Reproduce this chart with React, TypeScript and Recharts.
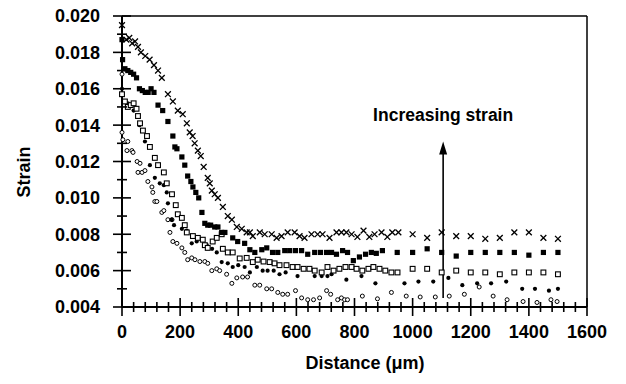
import React from 'react';
import {
  ScatterChart, Scatter, XAxis, YAxis, ReferenceLine, ReferenceDot, Customized,
} from 'recharts';

// distance (µm), strain, highest strain first
const CROSSES: [number, number][] = [
  [0, 0.0195], [15, 0.0187], [25, 0.0188], [35, 0.0185], [45, 0.0186], [55, 0.0183],
  [65, 0.018], [80, 0.0178], [95, 0.0176], [110, 0.0173], [124, 0.017], [137, 0.0166],
  [158, 0.0157], [175, 0.0153], [192, 0.0148], [209, 0.0146], [223, 0.0141], [233, 0.0136],
  [243, 0.0134], [250, 0.013], [261, 0.0126], [271, 0.0123], [281, 0.0117], [295, 0.0111],
  [302, 0.0108], [309, 0.0104], [319, 0.0102], [330, 0.01], [347, 0.0095], [364, 0.009],
  [378, 0.0088], [395, 0.0084], [412, 0.0083], [429, 0.0081], [440, 0.0081], [450, 0.0079],
  [474, 0.0081], [491, 0.008], [515, 0.008], [532, 0.0078], [549, 0.0079], [570, 0.0081],
  [594, 0.0081], [611, 0.0079], [628, 0.0078], [652, 0.008], [673, 0.008], [690, 0.008],
  [714, 0.0078], [738, 0.0081], [755, 0.0081], [772, 0.0081], [790, 0.008], [810, 0.00785],
  [831, 0.0082], [851, 0.00785], [869, 0.008], [893, 0.0081], [913, 0.00785], [930, 0.0081],
  [951, 0.0081], [1000, 0.008], [1050, 0.0078], [1100, 0.0081], [1150, 0.0079], [1200, 0.0079],
  [1250, 0.00775], [1300, 0.0078], [1350, 0.0081], [1400, 0.0081], [1450, 0.0078], [1500, 0.00775],
];

const FILLED_SQUARES: [number, number][] = [
  [0, 0.0187], [2, 0.0176], [10, 0.0171], [20, 0.017], [30, 0.0169], [40, 0.0168],
  [50, 0.0166], [60, 0.016], [70, 0.0159], [80, 0.0158], [90, 0.0158], [100, 0.016],
  [110, 0.0158], [124, 0.0151], [140, 0.0148], [158, 0.0142], [175, 0.0134], [182, 0.0128],
  [189, 0.0127], [206, 0.01225], [216, 0.0118], [226, 0.0112], [237, 0.0109], [244, 0.0106],
  [254, 0.0103], [264, 0.01], [275, 0.0092], [285, 0.0086], [295, 0.0085], [305, 0.0085],
  [319, 0.0084], [330, 0.0084], [343, 0.0081], [354, 0.0081], [381, 0.0078], [398, 0.0076],
  [422, 0.0075], [440, 0.00715], [457, 0.007], [481, 0.00715], [498, 0.00725], [518, 0.007],
  [536, 0.007], [560, 0.0071], [577, 0.0071], [597, 0.0071], [618, 0.0071], [639, 0.0069],
  [663, 0.007], [683, 0.007], [704, 0.007], [721, 0.007], [738, 0.0069], [759, 0.0071],
  [776, 0.007], [796, 0.00655], [817, 0.00675], [838, 0.0069], [858, 0.007], [875, 0.00695],
  [896, 0.0071], [947, 0.007], [1000, 0.007], [1050, 0.0072], [1100, 0.007], [1150, 0.0068],
  [1200, 0.007], [1250, 0.007], [1300, 0.007], [1350, 0.007], [1400, 0.00685], [1450, 0.007],
  [1500, 0.007],
];

const OPEN_SQUARES: [number, number][] = [
  [0, 0.0157], [10, 0.0153], [20, 0.015], [30, 0.0151], [40, 0.0152], [50, 0.0149],
  [55, 0.0145], [62, 0.0141], [72, 0.0137], [86, 0.0134], [96, 0.0128], [113, 0.0122],
  [124, 0.0118], [144, 0.0114], [154, 0.0108], [172, 0.0102], [185, 0.0096], [192, 0.0091],
  [206, 0.0089], [216, 0.0085], [223, 0.0081], [244, 0.0079], [261, 0.0078], [278, 0.0077],
  [285, 0.0074], [295, 0.00725], [312, 0.0076], [326, 0.0078], [343, 0.008], [347, 0.0072],
  [364, 0.007], [381, 0.007], [405, 0.00667], [429, 0.0067], [450, 0.00647], [467, 0.0066],
  [487, 0.0065], [508, 0.00647], [525, 0.0064], [542, 0.0063], [566, 0.0063], [587, 0.0062],
  [604, 0.0062], [625, 0.0061], [645, 0.0061], [663, 0.006], [687, 0.0059], [707, 0.0062],
  [728, 0.006], [748, 0.0061], [769, 0.0062], [790, 0.0062], [807, 0.0061], [827, 0.006],
  [848, 0.0061], [865, 0.0062], [886, 0.0061], [906, 0.006], [927, 0.0059], [948, 0.0059],
  [1000, 0.0061], [1050, 0.0061], [1100, 0.0059], [1150, 0.006], [1200, 0.0059], [1250, 0.0059],
  [1300, 0.0058], [1350, 0.0059], [1400, 0.0059], [1450, 0.0059], [1500, 0.0058],
];

const FILLED_CIRCLES: [number, number][] = [
  [0, 0.016], [20, 0.0152], [40, 0.0148], [60, 0.014], [79, 0.0131], [96, 0.0118],
  [113, 0.0111], [130, 0.0108], [144, 0.0107], [154, 0.0103], [158, 0.0097], [171, 0.0088],
  [179, 0.0085], [206, 0.0083], [223, 0.0082], [240, 0.0075], [257, 0.0076], [275, 0.0077],
  [292, 0.0074], [310, 0.0072], [326, 0.007], [343, 0.00647], [364, 0.0064], [381, 0.0062],
  [400, 0.0063], [422, 0.0062], [440, 0.0059], [464, 0.0062], [484, 0.006], [501, 0.006],
  [522, 0.006], [542, 0.0058], [563, 0.0059], [604, 0.0057], [663, 0.0057], [687, 0.0057],
  [707, 0.0057], [721, 0.0058], [772, 0.0055], [824, 0.0057], [872, 0.0053], [972, 0.0053],
  [1020, 0.0054], [1071, 0.0054], [1123, 0.0056], [1171, 0.0052], [1222, 0.0053], [1270, 0.0053],
  [1322, 0.0054], [1377, 0.005], [1421, 0.005], [1469, 0.0049], [1500, 0.005],
];

const OPEN_CIRCLES: [number, number][] = [
  [0, 0.0168], [0, 0.0136], [3, 0.0132], [17, 0.0126], [20, 0.0131], [34, 0.0126],
  [38, 0.0125], [52, 0.012], [62, 0.0119], [55, 0.0114], [69, 0.0114], [79, 0.0115],
  [89, 0.0109], [103, 0.0106], [106, 0.0103], [113, 0.0098], [120, 0.0098], [137, 0.0092],
  [144, 0.0093], [158, 0.0088], [165, 0.0081], [172, 0.0088], [175, 0.0076], [189, 0.0075],
  [206, 0.00725], [216, 0.007], [226, 0.0066], [240, 0.0067], [251, 0.0066], [268, 0.0065],
  [285, 0.0065], [295, 0.0064], [309, 0.006], [326, 0.0061], [336, 0.006], [360, 0.0058],
  [378, 0.0053], [395, 0.0056], [415, 0.00565], [432, 0.00565], [457, 0.0052], [474, 0.0052],
  [498, 0.005], [515, 0.005], [536, 0.0048], [553, 0.0047], [570, 0.0047], [597, 0.0049],
  [618, 0.0045], [639, 0.0044], [659, 0.0044], [680, 0.0045], [704, 0.0049], [718, 0.0047],
  [742, 0.0044], [755, 0.0045], [766, 0.0044], [776, 0.0044], [827, 0.0046], [879, 0.00445],
  [927, 0.0048], [978, 0.0046], [1026, 0.00455], [1078, 0.00455], [1126, 0.0046], [1178, 0.0047],
  [1229, 0.0051], [1277, 0.0046], [1325, 0.0044], [1380, 0.0043], [1428, 0.00425], [1476, 0.0044],
  [1497, 0.0043],
];

const Y_TICKS = [
  0.004, 0.005, 0.006, 0.007, 0.008, 0.009, 0.01, 0.011, 0.012,
  0.013, 0.014, 0.015, 0.016, 0.017, 0.018, 0.019, 0.02,
];
const X_TICKS = [
  0, 40, 80, 120, 160, 200, 240, 280, 320, 360, 400, 440, 480, 520, 560, 600, 640, 680, 720,
  760, 800, 840, 880, 920, 960, 1000, 1040, 1080, 1120, 1160, 1200, 1240, 1280, 1320, 1360,
  1400, 1440, 1480, 1520, 1560, 1600,
];

const ARROW_X = 1105;
const ARROW_FROM = 0.0045;
const ARROW_TIP = 0.0131;
const NOTE = 'Increasing strain';
const NOTE_Y = 0.01455;

const FONT = '"Liberation Sans", Arial, sans-serif';
const INK = '#000';

const toPts = (arr: [number, number][]) => arr.map(([x, y]) => ({ x, y }));

const YTick = ({ x, y, payload }: any) => {
  const v = payload.value;
  const major = Math.round(v * 1000) % 2 === 0;
  const h = major ? 9 : 5;
  return (
    <g>
      <line x1={x - h} x2={x + h} y1={y} y2={y} stroke={INK} strokeWidth={1.6} />
      {major && (
        <text x={x - 22} y={y} dy="0.36em" textAnchor="end" fontFamily={FONT}
          fontWeight="bold" fontSize={18} fill={INK}>
          {v.toFixed(3)}
        </text>
      )}
    </g>
  );
};

const XTick = ({ x, y, payload }: any) => {
  const v = payload.value;
  const major = v % 200 === 0;
  const h = major ? 9 : 5;
  return (
    <g>
      <line x1={x} x2={x} y1={y - h} y2={y + h} stroke={INK} strokeWidth={1.6} />
      {major && (
        <text x={x} y={y + 31} textAnchor="middle" fontFamily={FONT}
          fontWeight="bold" fontSize={18} fill={INK}>
          {v}
        </text>
      )}
    </g>
  );
};

const Cross = ({ cx, cy }: any) => (
  <path d={`M${cx - 2.9},${cy - 2.9}L${cx + 2.9},${cy + 2.9}M${cx - 2.9},${cy + 2.9}L${cx + 2.9},${cy - 2.9}`}
    stroke={INK} strokeWidth={1.3} fill="none" />
);
const FilledSquare = ({ cx, cy }: any) => (
  <rect x={cx - 2.6} y={cy - 2.6} width={5.2} height={5.2} fill={INK} />
);
const OpenSquare = ({ cx, cy }: any) => (
  <rect x={cx - 2.4} y={cy - 2.4} width={4.8} height={4.8} fill="#fff" stroke={INK} strokeWidth={1.1} />
);
const FilledCircle = ({ cx, cy }: any) => <circle cx={cx} cy={cy} r={2.1} fill={INK} />;
const OpenCircle = ({ cx, cy }: any) => (
  <circle cx={cx} cy={cy} r={2} fill="#fff" stroke={INK} strokeWidth={1} />
);

const Titles = () => (
  <g fontFamily={FONT} fontWeight="bold" fontSize={18} fill={INK}>
    <text x={24} y={172} dy="0.36em" textAnchor="middle" transform="rotate(-90, 24, 172)">Strain</text>
    <text x={365} y={369} textAnchor="middle">Distance (μm)</text>
  </g>
);

export default function App() {
  return (
    <div style={{ position: 'absolute', left: 0, top: 0, background: '#fff' }}>
      <ScatterChart width={626} height={384} margin={{ top: 16, right: 39, bottom: 0, left: 0 }}>
        <XAxis
          type="number" dataKey="x" domain={[0, 1600]} ticks={X_TICKS} interval={0}
          height={77} tickSize={0} tickMargin={0} tickLine={false}
          axisLine={{ stroke: INK, strokeWidth: 2 }} tick={<XTick />}
        />
        <YAxis
          type="number" dataKey="y" domain={[0.004, 0.02]} ticks={Y_TICKS} interval={0}
          width={122} tickSize={0} tickMargin={0} tickLine={false}
          axisLine={{ stroke: INK, strokeWidth: 2 }} tick={<YTick />}
        />
        <ReferenceLine y={0.02} stroke={INK} strokeWidth={1.5} />
        <ReferenceLine x={1600} stroke={INK} strokeWidth={1.5} />

        <Scatter data={toPts(OPEN_CIRCLES)} shape={<OpenCircle />} isAnimationActive={false} />
        <Scatter data={toPts(FILLED_CIRCLES)} shape={<FilledCircle />} isAnimationActive={false} />
        <Scatter data={toPts(OPEN_SQUARES)} shape={<OpenSquare />} isAnimationActive={false} />
        <Scatter data={toPts(FILLED_SQUARES)} shape={<FilledSquare />} isAnimationActive={false} />
        <Scatter data={toPts(CROSSES)} shape={<Cross />} isAnimationActive={false} />

        <ReferenceLine
          segment={[{ x: ARROW_X, y: ARROW_FROM }, { x: ARROW_X, y: ARROW_TIP - 0.0005 }]}
          stroke={INK} strokeWidth={1.6}
        />
        <ReferenceDot
          x={ARROW_X} y={ARROW_TIP}
          shape={({ cx, cy }: any) => (
            <polygon points={`${cx},${cy} ${cx - 4},${cy + 13} ${cx + 4},${cy + 13}`} fill={INK} />
          )}
        />
        <ReferenceDot
          x={ARROW_X} y={NOTE_Y}
          shape={({ cx, cy }: any) => (
            <text x={cx} y={cy} dy="0.36em" textAnchor="middle" fontFamily={FONT}
              fontWeight="bold" fontSize={17.5} fill={INK}>
              {NOTE}
            </text>
          )}
        />
        <Customized component={<Titles />} />
      </ScatterChart>
    </div>
  );
}
